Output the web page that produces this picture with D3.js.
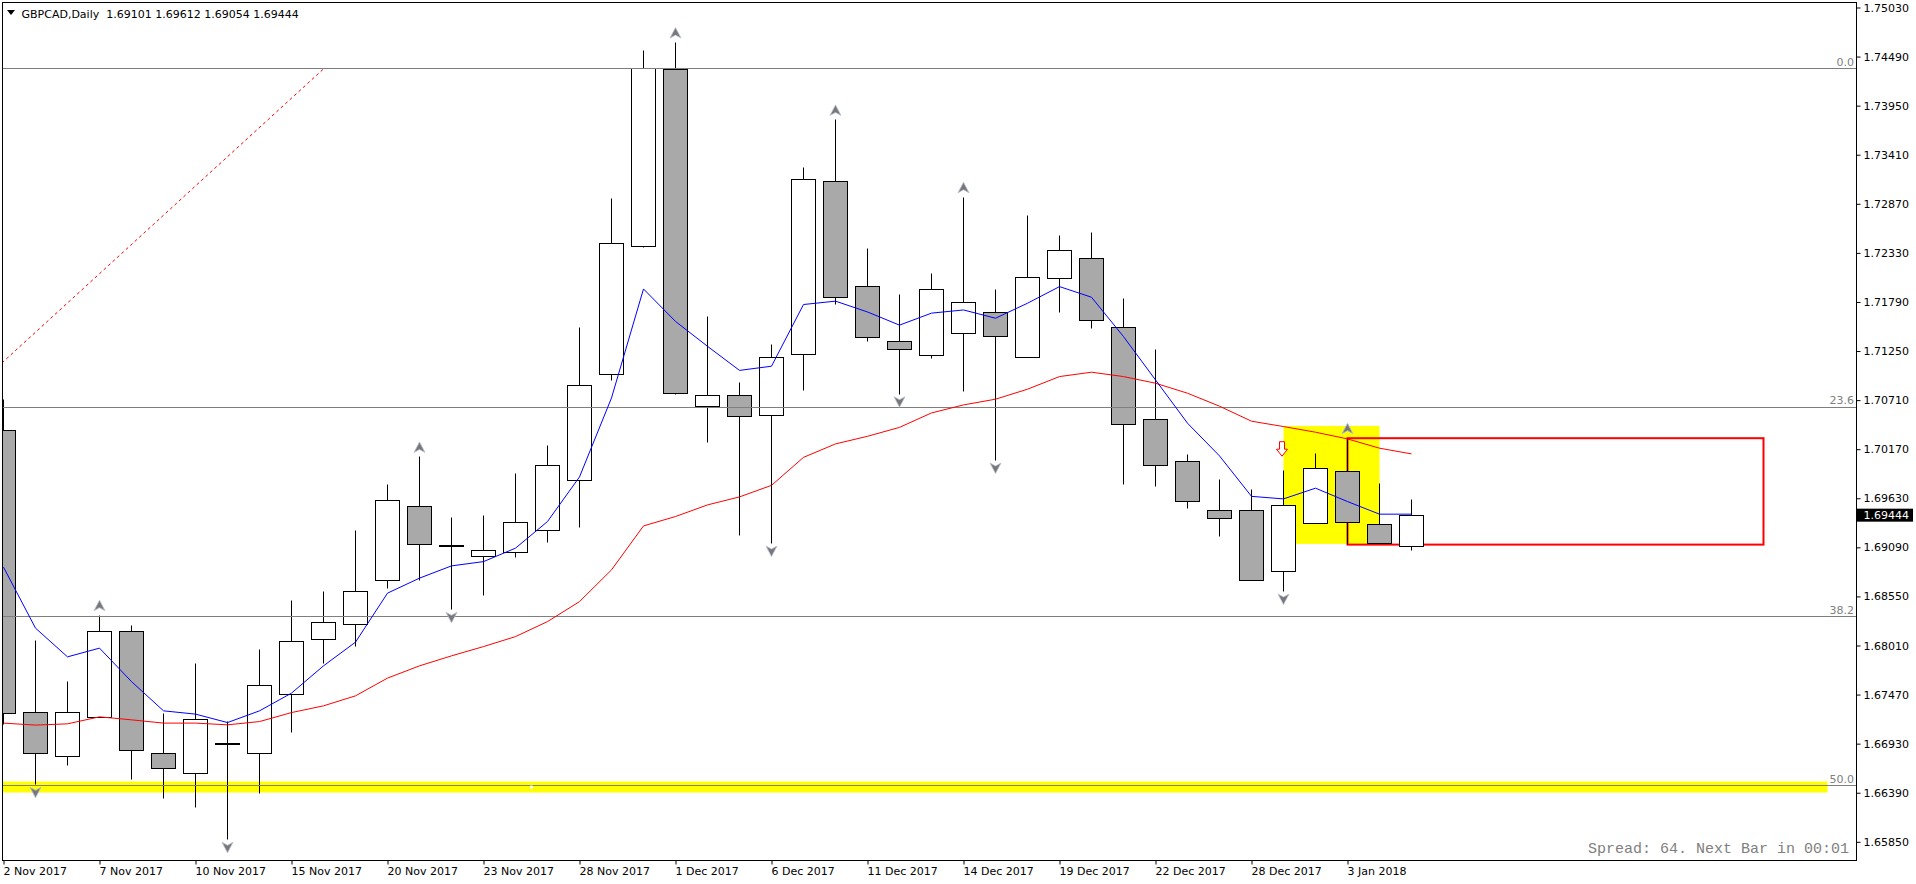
<!DOCTYPE html>
<html>
<head>
<meta charset="utf-8">
<script src="https://cdn.jsdelivr.net/npm/d3@7"></script>
<style>
  html, body { margin: 0; padding: 0; background: #fff; overflow: hidden; }
  svg { display: block; font-family: "DejaVu Sans", sans-serif; }
</style>
</head>
<body>
<script>
// GBPCAD daily bars
const barDates = ["2 Nov 2017","3 Nov 2017","6 Nov 2017","7 Nov 2017","8 Nov 2017","9 Nov 2017","10 Nov 2017",
    "13 Nov 2017","14 Nov 2017","15 Nov 2017","16 Nov 2017","17 Nov 2017","20 Nov 2017","21 Nov 2017",
    "22 Nov 2017","23 Nov 2017","24 Nov 2017","27 Nov 2017","28 Nov 2017","29 Nov 2017","30 Nov 2017",
    "1 Dec 2017","4 Dec 2017","5 Dec 2017","6 Dec 2017","7 Dec 2017","8 Dec 2017","11 Dec 2017",
    "12 Dec 2017","13 Dec 2017","14 Dec 2017","15 Dec 2017","18 Dec 2017","19 Dec 2017","20 Dec 2017",
    "21 Dec 2017","22 Dec 2017","26 Dec 2017","27 Dec 2017","28 Dec 2017","29 Dec 2017","2 Jan 2018",
    "3 Jan 2018","4 Jan 2018","5 Jan 2018"];

const opens  = [1.70375,1.67277,1.66788,1.67222,1.68168,1.66826,1.66606,1.66931,1.66826,1.67478,1.68080,1.68245,
    1.68729,1.69543,1.69109,1.68993,1.69037,1.69279,1.69829,1.70994,1.72393,1.74345,1.70641,1.70763,1.70543,
    1.71205,1.73118,1.71964,1.71357,1.71204,1.71446,1.71677,1.71182,1.72051,1.72271,1.71512,1.70500,1.70038,
    1.69499,1.69499,1.68828,1.69356,1.69928,1.69345,1.69101];
const highs  = [1.70712,1.68061,1.67610,1.68344,1.68234,1.67258,1.67808,1.67173,1.67962,1.68501,1.68600,1.69271,
    1.69785,1.70085,1.69414,1.69436,1.69898,1.70206,1.71504,1.72925,1.74556,1.74644,1.71635,1.70902,1.71327,
    1.73266,1.73793,1.72374,1.71867,1.72099,1.72942,1.71922,1.72737,1.72517,1.72550,1.71823,1.71262,1.70107,
    1.69832,1.69722,1.69931,1.70118,1.70291,1.69796,1.69612];
const lows   = [1.67137,1.66477,1.66686,1.67215,1.66540,1.66331,1.66232,1.65872,1.66386,1.67052,1.67808,1.67998,
    1.68636,1.68729,1.68402,1.68559,1.68977,1.69142,1.69308,1.70922,1.72393,1.70775,1.70239,1.69216,1.69131,
    1.70814,1.71762,1.71353,1.70775,1.71167,1.70808,1.70045,1.71182,1.71673,1.71497,1.69781,1.69759,1.69517,
    1.69209,1.68729,1.68603,1.69356,1.69120,1.69136,1.69054];
const closes = [1.67266,1.66826,1.67277,1.68168,1.66859,1.66660,1.67200,1.66931,1.67574,1.68058,1.68267,1.68608,
    1.69609,1.69125,1.69109,1.69059,1.69367,1.69994,1.70874,1.72436,1.74354,1.70784,1.70763,1.70531,1.71180,
    1.73136,1.71845,1.71399,1.71268,1.71930,1.71787,1.71413,1.72062,1.72359,1.71589,1.70445,1.69994,1.69598,
    1.69411,1.68729,1.69554,1.69961,1.69367,1.69136,1.69444];

// moving averages as drawn (blue fast, red slow)
const maFast = [1.68872,1.68201,1.67885,1.67981,1.67613,1.67291,1.67255,1.67162,1.67291,1.67486,1.67786,1.68047,
    1.68586,1.68751,1.68886,1.68933,1.69081,1.69374,1.69865,1.70734,1.71933,1.71576,1.71302,1.71037,1.71083,
    1.71762,1.71799,1.71680,1.71535,1.71667,1.71702,1.71611,1.71776,1.71959,1.71842,1.71409,1.70932,1.70456,
    1.70096,1.69651,1.69623,1.69741,1.69594,1.69455,1.69455];
const maSlow = [1.67156,1.67134,1.67148,1.67225,1.67192,1.67156,1.67156,1.67137,1.67173,1.67272,1.67346,1.67456,
    1.67651,1.67786,1.67896,1.67998,1.68108,1.68273,1.68493,1.68842,1.69326,1.69429,1.69557,1.69645,1.69772,
    1.70080,1.70228,1.70312,1.70410,1.70569,1.70657,1.70720,1.70830,1.70969,1.71017,1.70969,1.70896,1.70786,
    1.70643,1.70478,1.70419,1.70357,1.70283,1.70181,1.70118];

// bars carrying a fractal arrow
const fractalsUp   = [3, 13, 21, 26, 30, 42];
const fractalsDown = [1, 7, 14, 24, 28, 31, 40];

// axis ticks
const priceTicks = [1.65850,1.66390,1.66930,1.67470,1.68010,1.68550,1.69090,1.69630,1.70170,
    1.70710,1.71250,1.71790,1.72330,1.72870,1.73410,1.73950,1.74490,1.75030];
const dateTickBars = [0, 3, 6, 9, 12, 15, 18, 21, 24, 27, 30, 33, 36, 39, 42];

// fibonacci retracement
const fibNames  = ["0.0", "23.6", "38.2", "50.0"];
const fibPrices = [1.74354, 1.70632, 1.68328, 1.66466];
const fibTrendBars   = [-0.05, 10];
const fibTrendPrices = [1.71119, 1.74354];

// drawn objects
const bandPrices = [1.66513, 1.66392];   // yellow band on the 50% level
const bandBars   = [-1, 57];
const zoneBars   = [40, 43];              // yellow highlight
const zonePrices = [1.70426, 1.69128];
const boxBars    = [42, 55];              // red range box
const boxPrices  = [1.70291, 1.69120];
const signalBar = 40, signalPrice = 1.70170;
const markerBar = 16.5, markerPrice = 1.66452;

const headerText = "GBPCAD,Daily\u00a0\u00a01.69101 1.69612 1.69054 1.69444";
const spreadText = "Spread: 64. Next Bar in 00:01";

const mt = {};
mt.width = 1916;
mt.height = 884;
mt.plot = { left: 2, top: 2, right: 1856, bottom: 860 };

mt.x = d3.scaleLinear().domain([0, 1]).range([3.5, 35.5]);
mt.y = d3.scaleLinear().domain([1.6585, 1.7503]).range([841.8, 7.5]);

const crisp = v => Math.round(v - 0.5) + 0.5;

document.addEventListener("DOMContentLoaded", function() {
    mt.createSVG();
    mt.drawBackgroundObjects();
    mt.drawCandles();
    mt.drawFibo();
    mt.drawAverages();
    mt.drawFractals();
    mt.drawSignal();
    mt.drawFrame();
    mt.drawYAxis();
    mt.drawXAxis();
    mt.drawTexts();
});

/**
 * Create the svg and the clipped plot group
 */
mt.createSVG = () => {
    mt.svg = d3.select("body").append("svg")
        .attr("width", mt.width)
        .attr("height", mt.height);

    mt.svg.append("rect").attr("width", mt.width).attr("height", mt.height).attr("fill", "#fff");

    mt.svg.append("clipPath").attr("id", "plot-clip")
        .append("rect")
        .attr("x", mt.plot.left).attr("y", mt.plot.top)
        .attr("width", mt.plot.right - mt.plot.left)
        .attr("height", mt.plot.bottom - mt.plot.top);

    mt.g = mt.svg.append("g").attr("clip-path", "url(#plot-clip)");
}

/**
 * Rectangles drawn behind the bars
 */
mt.drawBackgroundObjects = () => {
    const { x, y } = mt;

    mt.g.append("rect")
        .attr("x", x(bandBars[0])).attr("width", x(bandBars[1]) - x(bandBars[0]))
        .attr("y", y(bandPrices[0])).attr("height", y(bandPrices[1]) - y(bandPrices[0]))
        .attr("fill", "#ffff00");

    mt.g.append("rect")
        .attr("x", x(zoneBars[0])).attr("width", x(zoneBars[1]) - x(zoneBars[0]))
        .attr("y", y(zonePrices[0])).attr("height", y(zonePrices[1]) - y(zonePrices[0]))
        .attr("fill", "#ffff00");

    mt.g.append("rect")
        .attr("x", x(boxBars[0])).attr("width", x(boxBars[1]) - x(boxBars[0]))
        .attr("y", y(boxPrices[0])).attr("height", y(boxPrices[1]) - y(boxPrices[0]))
        .attr("fill", "none")
        .attr("stroke", "#ff0000")
        .attr("stroke-width", 2);
}

/**
 * Candles: wick first, body on top
 */
mt.drawCandles = () => {
    const { x, y } = mt;
    const bars = d3.range(opens.length);

    const candle = mt.g.selectAll(".candle")
        .data(bars)
        .enter().append("g")
        .attr("class", "candle");

    candle.append("line")
        .attr("x1", i => x(i)).attr("x2", i => x(i))
        .attr("y1", i => crisp(y(highs[i]))).attr("y2", i => crisp(y(lows[i])))
        .attr("stroke", "#000");

    candle.append("rect")
        .attr("x", i => x(i) - 12)
        .attr("width", 24)
        .attr("y", i => crisp(y(Math.max(opens[i], closes[i]))))
        .attr("height", i => Math.max(1, Math.round(y(Math.min(opens[i], closes[i])) - y(Math.max(opens[i], closes[i])))))
        .attr("fill", i => closes[i] < opens[i] ? "#a9a9a9" : "#fff")
        .attr("stroke", "#000");
}

/**
 * Fibonacci levels, labels and the dotted trend line
 */
mt.drawFibo = () => {
    const { x, y } = mt;

    mt.g.selectAll(".fib")
        .data(fibPrices)
        .enter().append("line")
        .attr("class", "fib")
        .attr("x1", mt.plot.left).attr("x2", mt.plot.right)
        .attr("y1", d => crisp(y(d))).attr("y2", d => crisp(y(d)))
        .attr("stroke", "#7f7f7f");

    mt.g.selectAll(".fib-label")
        .data(fibPrices)
        .enter().append("text")
        .attr("class", "fib-label")
        .attr("x", mt.plot.right - 2)
        .attr("y", d => y(d) - 3)
        .attr("text-anchor", "end")
        .attr("font-size", 11)
        .attr("fill", "#808080")
        .text((d, i) => fibNames[i]);

    const line = d3.line().x(d => x(d[0])).y(d => y(d[1]));
    mt.g.append("path")
        .datum(d3.zip(fibTrendBars, fibTrendPrices))
        .attr("d", line)
        .attr("fill", "none")
        .attr("stroke", "#ff0000")
        .attr("stroke-dasharray", "3,3");
}

/**
 * Moving average lines
 */
mt.drawAverages = () => {
    const line = d3.line().x((d, i) => mt.x(i)).y(d => mt.y(d));

    mt.g.append("path").datum(maSlow)
        .attr("d", line).attr("fill", "none").attr("stroke", "#ff0000");

    mt.g.append("path").datum(maFast)
        .attr("d", line).attr("fill", "none").attr("stroke", "#0000ff");
}

/**
 * Fractal arrows above highs and below lows
 */
mt.drawFractals = () => {
    const arrowUp = "M0,-5.5L5.5,5L0,2L-5.5,5Z";
    const arrowDown = "M0,5.5L5.5,-5L0,-2L-5.5,-5Z";

    mt.g.selectAll(".fr-up")
        .data(fractalsUp)
        .enter().append("path")
        .attr("class", "fr-up")
        .attr("transform", i => "translate(" + mt.x(i) + "," + (mt.y(highs[i]) - 9.5) + ")")
        .attr("d", arrowUp)
        .attr("fill", "#777")
        .attr("stroke", "#b9c2d4")
        .attr("stroke-width", 0.8);

    mt.g.selectAll(".fr-down")
        .data(fractalsDown)
        .enter().append("path")
        .attr("class", "fr-down")
        .attr("transform", i => "translate(" + mt.x(i) + "," + (mt.y(lows[i]) + 7.5) + ")")
        .attr("d", arrowDown)
        .attr("fill", "#777")
        .attr("stroke", "#b9c2d4")
        .attr("stroke-width", 0.8);
}

/**
 * Hollow red sell arrow and small anchor marker
 */
mt.drawSignal = () => {
    mt.g.append("path")
        .attr("transform", "translate(" + (mt.x(signalBar) - 1.5) + "," + mt.y(signalPrice) + ")")
        .attr("d", "M-2.5,-7.5L2.5,-7.5L2.5,0L5.5,0L0,7L-5.5,0L-2.5,0Z")
        .attr("fill", "#fff")
        .attr("stroke", "#ff0000");

    mt.g.append("rect")
        .attr("x", mt.x(markerBar) - 1.5).attr("y", mt.y(markerPrice) - 1.5)
        .attr("width", 3).attr("height", 3)
        .attr("fill", "#fff");
}

mt.drawFrame = () => {
    mt.svg.append("rect")
        .attr("x", mt.plot.left + 0.5).attr("y", mt.plot.top + 0.5)
        .attr("width", mt.plot.right - mt.plot.left)
        .attr("height", mt.plot.bottom - mt.plot.top)
        .attr("fill", "none")
        .attr("stroke", "#000");
}

/**
 * Price scale on the right plus the current price tag
 */
mt.drawYAxis = () => {
    const axis = mt.svg.append("g")
        .attr("transform", "translate(" + (mt.plot.right + 0.5) + ",0)")
        .call(d3.axisRight(mt.y)
            .tickValues(priceTicks)
            .tickSize(4)
            .tickPadding(3)
            .tickFormat(d3.format(".5f")));

    axis.select(".domain").remove();
    axis.selectAll("text").attr("font-size", 11).attr("font-family", "DejaVu Sans").attr("fill", "#000");

    const last = closes[closes.length - 1];
    const yl = mt.y(last);
    mt.svg.append("rect")
        .attr("x", mt.plot.right + 1).attr("y", yl - 6.5)
        .attr("width", 56).attr("height", 13)
        .attr("fill", "#000");
    mt.svg.append("text")
        .attr("x", mt.plot.right + 7.5).attr("y", yl)
        .attr("dy", "0.36em")
        .attr("font-size", 11)
        .attr("fill", "#fff")
        .text(d3.format(".5f")(last));
}

/**
 * Date scale below the plot, labels start at the tick
 */
mt.drawXAxis = () => {
    const axis = mt.svg.append("g")
        .attr("transform", "translate(0," + (mt.plot.bottom + 0.5) + ")")
        .call(d3.axisBottom(mt.x)
            .tickValues(dateTickBars)
            .tickSize(4)
            .tickPadding(3)
            .tickFormat(i => barDates[i]));

    axis.select(".domain").remove();
    axis.selectAll("text")
        .attr("text-anchor", "start")
        .attr("x", -0.5)
        .attr("font-size", 11)
        .attr("font-family", "DejaVu Sans")
        .attr("fill", "#000");
}

mt.drawTexts = () => {
    mt.svg.append("path").attr("d", "M7,10L15,10L11,15Z").attr("fill", "#000");

    mt.svg.append("text")
        .attr("x", 21.5).attr("y", 17.5)
        .attr("font-size", 11)
        .attr("fill", "#000")
        .text(headerText);

    mt.svg.append("text")
        .attr("x", 1849).attr("y", 853)
        .attr("text-anchor", "end")
        .attr("font-family", "Liberation Mono")
        .attr("font-size", 15)
        .attr("fill", "#808080")
        .text(spreadText);
}
</script>
</body>
</html>
